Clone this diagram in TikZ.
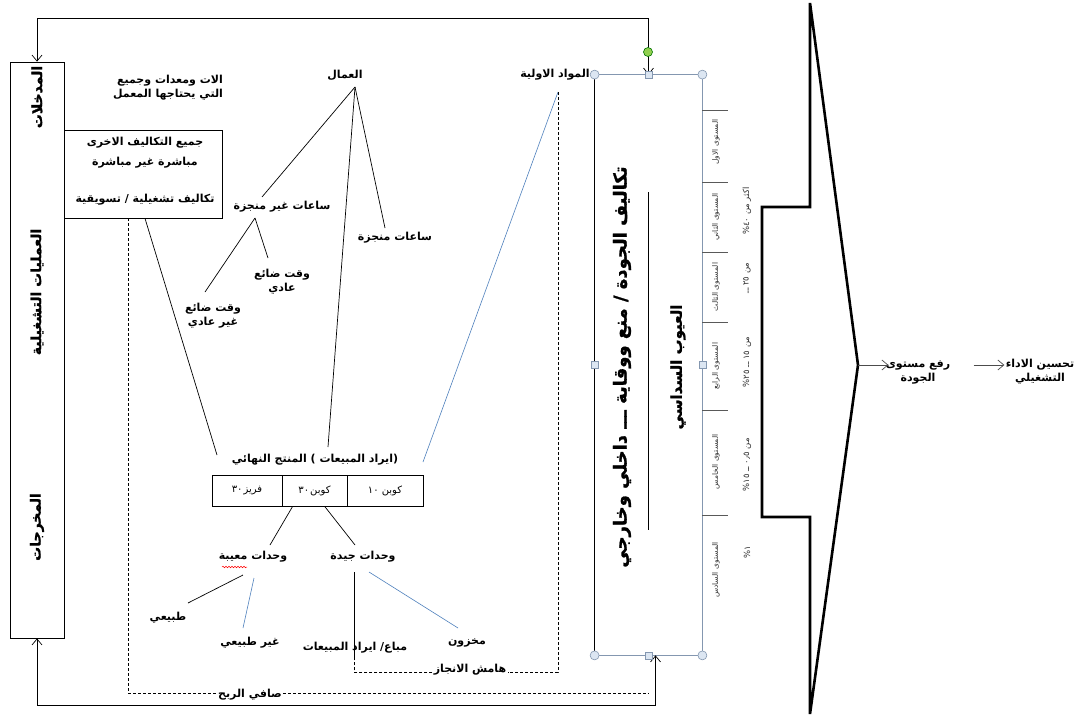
\documentclass[tikz,border=0pt]{standalone}
\usepackage{fontspec}
\setmainfont{DejaVu Sans}
\newfontfamily\ar[Script=Arabic]{DejaVu Sans}
\newfontfamily\arh[Script=Arabic, FakeBold=1.3]{DejaVu Sans Bold}
\TeXXeTstate=1
\usetikzlibrary{arrows.meta,calc,decorations.pathmorphing}
\newcommand{\AR}[1]{\beginR #1\endR}
\definecolor{selgray}{HTML}{8497B0}
\definecolor{handlefill}{HTML}{DCE6F2}
\definecolor{bluel}{HTML}{4F81BD}
\definecolor{greenh}{HTML}{92D050}
\begin{document}
\begin{tikzpicture}[x=1pt,y=-1pt, line width=0.8pt,
  lbl/.style={font=\ar\bfseries\fontsize{11}{14}\selectfont, inner sep=1pt, align=center},
  vside/.style={font=\arh\fontsize{14}{17}\selectfont, rotate=90, inner sep=0pt},
  vbig/.style={font=\arh\fontsize{18}{21}\selectfont, rotate=90, inner sep=0pt},
  vsmall/.style={font=\ar\fontsize{7.5}{9}\selectfont, rotate=90, inner sep=0pt, text=black!80},
  vpct/.style={font=\ar\fontsize{8.5}{10}\selectfont, rotate=90, inner sep=0pt, text=black!80},
  conn/.style={line width=0.7pt},
  bconn/.style={line width=0.6pt, draw=bluel},
  dconn/.style={line width=0.7pt, dash pattern=on 3pt off 2pt},
  arr/.style={-{Straight Barb[length=6pt,width=10pt]}},
  darr/.style={{Straight Barb[length=6pt,width=10pt]}-{Straight Barb[length=6pt,width=10pt]}},
  handle/.style={circle, draw=selgray, fill=handlefill, minimum size=9pt, inner sep=0pt, line width=0.6pt},
  shandle/.style={rectangle, draw=selgray, fill=handlefill, minimum size=7pt, inner sep=0pt, line width=0.6pt},
  cell/.style={draw, line width=0.7pt, minimum height=31pt, inner sep=0pt, font=\ar\fontsize{10}{12}\selectfont},
]
\useasboundingbox (0,0) rectangle (1079,717);
\fill[white] (0,0) rectangle (1079,717);

\coordinate (topY) at (0,18);
\coordinate (botY) at (0,705);

% ---------- left box ----------
\node[draw, minimum width=54pt, minimum height=576pt, inner sep=0pt] (leftbox) at (37,350) {};
\node[vside] (inp) at (37,97) {\AR{المدخلات}};
\node[vside] (ops) at (37,292) {\AR{العمليات التشغيلية}};
\node[vside] (outp) at (37,527) {\AR{المخرجات}};

% ---------- right box frame ----------
\node[minimum width=107pt, minimum height=580pt, inner sep=0pt] (qbox) at (648.5,365) {};

% ---------- costs box ----------
\node[draw, minimum width=158pt, minimum height=88pt, inner sep=0pt] (costs) at (143,174) {};
\node[lbl] (ct1) at (145,143) {\AR{جميع التكاليف الاخرى}};
\node[lbl] (ct2) at (145,163) {\AR{مباشرة غير مباشرة}};
\node[lbl] (ct3) at (145,200) {\AR{تكاليف تشغيلية / تسويقية}};

\node[lbl, align=right] (alat) at (168,88) {\AR{الات ومعدات وجميع}\\\AR{التي يحتاجها المعمل}};

% ---------- upper tree ----------
\node[lbl] (ummal) at (345,75) {\AR{العمال}};
\node[lbl] (mawad) at (555,75) {\AR{المواد الاولية}};
\node[lbl] (ghayr) at (282,207) {\AR{ساعات غير منجزة}};
\node[lbl] (munj) at (395,238) {\AR{ساعات منجزة}};
\node[lbl] (waqt1) at (282,282) {\AR{وقت ضائع}\\\AR{عادي}};
\node[lbl] (waqt2) at (213,316) {\AR{وقت ضائع}\\\AR{غير عادي}};
\node[lbl] (prod) at (315,460) {\AR{(ايراد المبيعات ) المنتج النهائي}};

% product table
\node[cell, minimum width=70pt] (cellA) at (247,490.5) {\AR{فريز\kern1pt ٣٠}};
\node[cell, minimum width=65pt] (cellB) at (314.5,490.5) {\AR{كوبن\kern1pt ٣٠}};
\node[cell, minimum width=76pt] (cellC) at (385,490.5) {\AR{كوبن ١٠}};

% ---------- lower tree ----------
\node[lbl] (maiba) at (253,557) {\AR{وحدات معيبة}};
\node[lbl] (jayy) at (363,557) {\AR{وحدات جيدة}};
\node[lbl] (tabii) at (168,618) {\AR{طبيعي}};
\node[lbl] (ghtab) at (250,643) {\AR{غير طبيعي}};
\node[lbl] (mubaa) at (355,648) {\AR{مباع/ ايراد المبيعات}};
\node[lbl] (makh) at (467,643) {\AR{مخزون}};
\node[lbl] (hamish) at (470,670) {\AR{هامش الانجاز}};
\node[lbl] (safi) at (250,695) {\AR{صافي الربح}};

\draw[red, line width=0.5pt, decorate, decoration={snake, amplitude=0.8pt, segment length=3pt}]
  ($(maiba)+(-31,10)$) -- ($(maiba)+(-6,10)$);

% connectors upper
\draw[conn] ($(ummal)+(10,12)$) -- ($(ghayr)+(-20,-10)$);
\draw[conn] ($(ummal)+(10,12)$) -- ($(munj)+(-10,-10)$);
\draw[conn] ($(ummal)+(10,12)$) -- ($(prod)+(13,-13)$);
\draw[conn] ($(ghayr)+(-27,11)$) -- ($(waqt2)+(-8,-24)$);
\draw[conn] ($(ghayr)+(-27,11)$) -- ($(waqt1)+(-14,-24)$);
\draw[conn] ($(costs.south)+(2,0)$) -- ($(prod)+(-98,-5)$);
\draw[bconn] ($(mawad)+(3,17)$) -- ($(prod)+(108,2)$);

% connectors lower
\draw[conn] ($(cellB.south west)+(11,0)$) -- ($(maiba)+(17,-12)$);
\draw[conn] ($(cellB.south west)+(43,0)$) -- ($(jayy)+(-8,-12)$);
\draw[conn] ($(maiba)+(-10,18)$) -- ($(tabii)+(20,-15)$);
\draw[bconn] ($(maiba)+(1,21)$) -- ($(ghtab)+(-7,-15)$);
\draw[conn] ($(jayy)+(-9,15)$) -- ($(jayy)+(-9,100)$);
\draw[bconn] ($(jayy)+(6,15)$) -- ($(makh)+(-9,-15)$);

% dashed
\draw[dconn] ($(mawad)+(3,17)$) |- ($(hamish.east)+(0,2)$);
\draw[dconn] ($(hamish.west)+(0,2)$) -| ($(jayy)+(-9,100)$);
\draw[dconn] ($(costs.south)+(-15,0)$) |- ($(safi.west)+(0,-2)$);
\draw[dconn] ($(safi.east)+(0,-2)$) -- ($(safi.east -| qbox.south)+(0,-2)$);

% ---------- right box ----------
\draw[selgray, line width=0.7pt] (qbox.north west) -- (qbox.north east) -- (qbox.south east) -- (qbox.south west);
\draw[line width=1.6pt] (qbox.north west) -- (qbox.south west);
\node[vbig] (qt) at (622,367) {\AR{تكاليف الجودة / منع ووقاية ـــ داخلي وخارجي}};
\draw[conn] (648,192) -- (648,530);
\node[vside, font=\arh\fontsize{15}{18}\selectfont] (sigma) at (678,367) {\AR{العيوب السداسي}};

\foreach \yy in {110,182,252,322,410,515} \draw[black!65, line width=0.6pt] (702,\yy) -- (728,\yy);
\node[vsmall] (lv1) at (716,142) {\AR{المستوى الاول}};
\node[vsmall] (lv2) at (716,217) {\AR{المستوى الثاني}};
\node[vsmall] (lv3) at (716,287) {\AR{المستوى الثالث}};
\node[vsmall] (lv4) at (716,366) {\AR{المستوى الرابع}};
\node[vsmall] (lv5) at (716,462) {\AR{المستوى الخامس}};
\node[vsmall] (lv6) at (716,570) {\AR{المستوى السادس}};

\node[vpct] (pc1) at (747,211) {\AR{اكثر من \beginL\%\kern0pt٤٠\endL}};
\node[vpct] (pc2) at (747,278) {\AR{من ٢٥ ــ}};
\node[vpct] (pc3) at (747,362) {\AR{من ١٥ ــ \beginL\%\kern0pt٢٥\endL}};
\node[vpct] (pc4) at (747,465) {\AR{من ٠٫٥ ــ \beginL\%\kern0pt١٥\endL}};
\node[vpct] (pc5) at (747,552) {\beginL\%\kern0pt١\endL};

% loops
\coordinate (qin) at ($(qbox.south)+(7,0)$);
\draw[conn, darr] (qbox.north) -- (qbox.north |- topY) -- (leftbox.north |- topY) -- (leftbox.north);
\draw[conn, darr] (leftbox.south) -- (leftbox.south |- botY) -- (qin |- botY) -- (qin);

% handles
\node[handle] (h1) at (qbox.north west) {};
\node[handle] (h2) at (qbox.north east) {};
\node[handle] (h3) at (qbox.south west) {};
\node[handle] (h4) at (qbox.south east) {};
\node[shandle] (h5) at (qbox.north) {};
\node[shandle] (h6) at (qbox.south) {};
\node[shandle] (h7) at (qbox.west) {};
\node[shandle] (h8) at (qbox.east) {};
\node[handle, fill=greenh, draw=green!45!black] (hrot) at (648,52) {};

% ---------- wedge arrow ----------
\draw[line width=2.6pt, line join=miter] (762,207) -- (810,207) -- (810,3) -- (858,365) -- (810,714) -- (810,517) -- (762,517) -- cycle;
\coordinate (tip) at (858,365);
\node[lbl] (raf) at (918,372) {\AR{رفع مستوى}\\\AR{الجودة}};
\node[lbl] (tahs) at (1040,372) {\AR{تحسين الاداء}\\\AR{التشغيلي}};
\draw[conn, arr, black!70] (tip) -- ($(tip -| raf.west)+(4,0)$);
\draw[conn, arr, black!70] ($(raf.east |- tip)+(22,0)$) -- (tahs.west |- tip);
\end{tikzpicture}
\end{document}
